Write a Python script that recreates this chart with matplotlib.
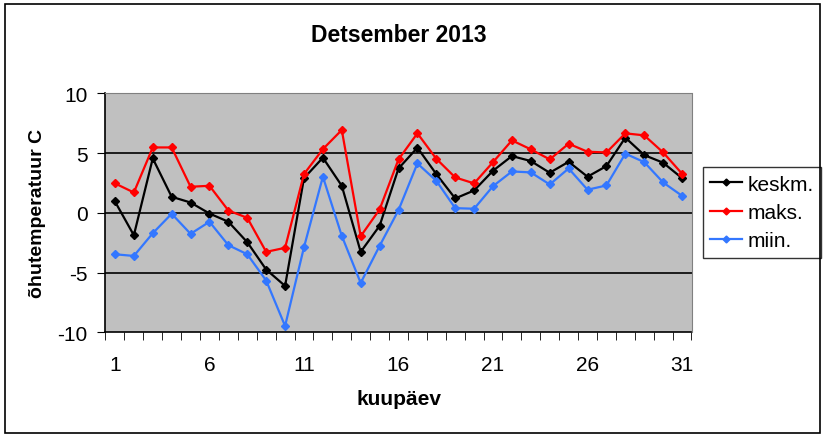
import numpy as np
import matplotlib.pyplot as plt
from matplotlib.patches import Rectangle

plt.rcParams['font.family'] = 'Liberation Sans'
plt.rcParams['axes.unicode_minus'] = False

days = list(range(1, 32))
keskm = [0.95, -1.88, 4.55, 1.34, 0.86, -0.06, -0.75, -2.46, -4.75, -6.12,
         2.9, 4.61, 2.26, -3.27, -1.09, 3.71, 5.45, 3.24, 1.2, 1.87,
         3.52, 4.75, 4.33, 3.35, 4.27, 3.02, 3.91, 6.29, 4.83, 4.19, 2.9]
maks = [2.46, 1.7, 5.47, 5.47, 2.18, 2.26, 0.19, -0.42, -3.27, -2.93,
        3.24, 5.33, 6.93, -1.96, 0.28, 4.47, 6.65, 4.52, 2.96, 2.46,
        4.24, 6.06, 5.31, 4.47, 5.78, 5.11, 5.05, 6.65, 6.48, 5.05, 3.27]
miin = [-3.47, -3.61, -1.71, -0.08, -1.76, -0.75, -2.71, -3.47, -5.67, -9.47,
        -2.88, 3.02, -1.93, -5.87, -2.77, 0.22, 4.13, 2.68, 0.39, 0.34,
        2.23, 3.46, 3.38, 2.37, 3.71, 1.93, 2.29, 4.95, 4.24, 2.54, 1.42]
series_names = ['keskm.', 'maks.', 'miin.']
series_colors = ['#000000', '#ff0000', '#3377ff']

W, H = 825, 439
fig = plt.figure(figsize=(W / 100, H / 100), dpi=100)
fig.patches.append(Rectangle((5 / W, 5 / H), 815 / W, 429 / H, transform=fig.transFigure,
                             fill=False, edgecolor='black', linewidth=1.2))

ax = fig.add_axes([105.5 / W, 1 - 333.3 / H, 586 / W, 239 / H])
ax.set_facecolor('#c0c0c0')
for y in [-5, 0, 5]:
    ax.axhline(y, color='black', linewidth=1.2, zorder=1)

for vals, name, col in zip([keskm, maks, miin], series_names, series_colors):
    ax.plot(days, vals, color=col, linewidth=1.6, marker='D', markersize=4.5,
            label=name, zorder=3)

ax.set_xlim(0.5, 31.5)
ax.set_ylim(-10, 10)
ax.set_yticks([-10, -5, 0, 5, 10])
ax.set_xticks(days[::5])
ax.set_xticks(np.arange(0.5, 32, 1), minor=True)
ax.tick_params(axis='x', which='major', length=0, pad=16, labelsize=15)
ax.tick_params(axis='x', which='minor', length=6, direction='out')
ax.tick_params(axis='y', length=6, direction='out', labelsize=15, pad=7)
ax.spines['top'].set_color('#808080')
ax.spines['right'].set_color('#808080')
for s in ['left', 'bottom']:
    ax.spines[s].set_color('black')
    ax.spines[s].set_linewidth(1.2)

ax.set_title('Detsember 2013', fontsize=16.5, fontweight='bold', pad=38)
ax.set_xlabel('kuupäev', fontsize=15, fontweight='bold', labelpad=11)
ax.set_ylabel('õhutemperatuur C', fontsize=14, fontweight='bold', labelpad=8)

leg = ax.legend(loc='center left', bbox_to_anchor=(703 / W, 1 - 213.5 / H),
                bbox_transform=fig.transFigure, frameon=True, fancybox=False,
                fontsize=15, handlelength=1.5, borderpad=0.35, labelspacing=0.45,
                handletextpad=0.3, borderaxespad=0)
leg.get_frame().set_edgecolor('black')
leg.get_frame().set_linewidth(1.0)
for h in leg.legend_handles:
    h.set_markersize(3.5)

fig.savefig('out.png', dpi=100)
